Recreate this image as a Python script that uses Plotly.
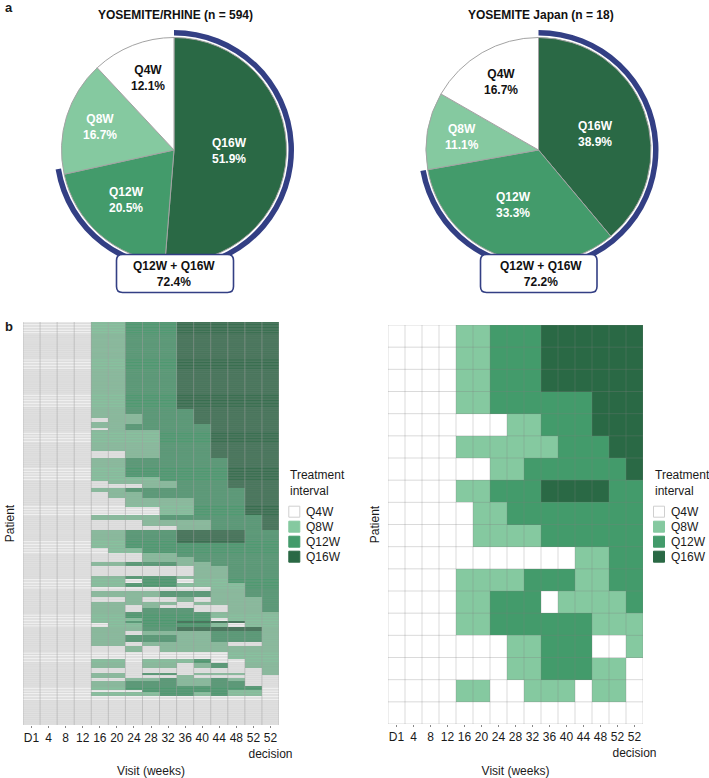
import plotly.graph_objects as go

W, H = 709, 778

INTERVALS = ["Q16W", "Q12W", "Q8W", "Q4W"]
pie_left_values = [51.9, 20.5, 16.7, 12.1]
pie_right_values = [38.9, 33.3, 11.1, 16.7]
title_left = "YOSEMITE/RHINE (n = 594)"
title_right = "YOSEMITE Japan (n = 18)"
combined_label = "Q12W + Q16W"
combined_left = 72.4
combined_right = 72.2

visit_labels = ["D1", "4", "8", "12", "16", "20", "24", "28", "32", "36", "40", "44", "48", "52", "52<br>decision"]
legend_labels = ["Q4W", "Q8W", "Q12W", "Q16W"]

COLORS = {"Q4W": "#ffffff", "Q8W": "#85c9a0", "Q12W": "#439b6b", "Q16W": "#2a6945"}
NAVY = "#333f84"
TEXT = "#1a1a1a"
FONT = "Liberation Sans, Arial, sans-serif"

# interval code per visit from week 16 on (D1-12 are always Q4W): 0 Q4W, 1 Q8W, 2 Q12W, 3 Q16W
japan_rows = [
    "11222333333", "11222333333", "11222333333", "11222222333", "00011222333",
    "11111122233", "00112222223", "11222333322", "01122222222", "01111222222",
    "00000001122", "11112221122", "11222011112", "11222222111", "00011222001",
    "00011222110", "11001110110", "00000000000",
]

pooled_patterns = [
    "11222333333", "11222233333", "11122233333", "01122233333", "11122233333",
    "11222223333", "01222223333", "11112223333", "00112223333", "11222222333",
    "11112222333", "01111222333", "00011222333", "11222222233", "01122222233",
    "00111122233", "00001122233", "11112222223", "00011112223", "00000112223",
    "11222333322", "11222222222", "01122222222", "00011222222", "00011122222",
    "11222112222", "00000011222", "11222111222", "11022011222", "11222111122",
    "00000001122", "11112221122", "00100101112", "11111011112", "11010000112",
    "11022200112", "11222221111", "11122220111", "11222333311", "01122221011",
    "11122333331", "11011112221", "11222112221", "11011111001", "00101111111",
    "00000000111", "11011120011", "11011012011", "00000000001", "11022011101",
    "11000100000", "00112112100", "11222112200", "11222222220", "00022222110",
    "11112212110", "00000000000",
]
pooled_counts = [
    128, 7, 6, 7, 2, 6, 3, 31, 10, 28, 6, 5, 6, 6, 9, 13, 12, 7, 9, 6,
    19, 7, 7, 7, 7, 6, 15, 4, 5, 7, 6, 9, 7, 4, 5, 6, 9, 4, 3, 6,
    6, 5, 10, 7, 9, 10, 6, 7, 7, 3, 5, 4, 7, 7, 2, 6, 43,
]


def expand(patterns, counts):
    rows = []
    for pattern, count in zip(patterns, counts):
        rows.extend([[0, 0, 0, 0] + [int(c) for c in pattern]] * count)
    return rows


z_left = expand(pooled_patterns, pooled_counts)
z_right = expand(japan_rows, [1] * len(japan_rows))


def px(x):
    return x / W


def py(y):
    return 1 - y / H


colorscale = []
for i, name in enumerate(legend_labels):
    colorscale += [[i / 4, COLORS[name]], [(i + 1) / 4, COLORS[name]]]

fig = go.Figure()


def add_pie(values, cx, cy, radius, total):
    slice_colors = [COLORS[n] for n in INTERVALS]
    fig.add_trace(go.Pie(
        values=values, labels=INTERVALS, sort=False, direction="clockwise", rotation=0,
        marker=dict(colors=slice_colors, line=dict(color="#a3a3a3", width=1)),
        textinfo="none", hoverinfo="label+value", showlegend=False,
        domain=dict(x=[px(cx - radius), px(cx + radius)], y=[py(cy + radius), py(cy - radius)]),
    ))
    outer = radius + 7.5
    fig.add_trace(go.Pie(
        values=[total, 100 - total], sort=False, direction="clockwise", rotation=0,
        hole=(radius + 2) / outer,
        marker=dict(colors=[NAVY, "rgba(0,0,0,0)"], line=dict(width=0)),
        textinfo="none", hoverinfo="skip", showlegend=False,
        domain=dict(x=[px(cx - outer), px(cx + outer)], y=[py(cy + outer), py(cy - outer)]),
    ))


add_pie(pie_left_values, 174, 150, 112.5, combined_left)
add_pie(pie_right_values, 538.5, 150, 112.5, combined_right)


def add_panel(z, suffix, x0, x1, y0, y1, row_width, row_color, col_width, col_color, moire=False):
    n = len(z)
    nc = len(z[0])
    xa, ya = "x" + suffix, "y" + suffix
    fig.add_trace(go.Heatmap(
        z=z, x=list(range(nc)), y=list(range(n)), zmin=0, zmax=4,
        colorscale=colorscale, showscale=False, hoverinfo="skip", xaxis=xa, yaxis=ya,
    ))
    hx, hy = [], []
    for r in range(n + 1):
        # the densely packed rule lines beat against the pixel grid and leave paler streaks
        if moire and r % 54 < 18 and r % 4 == 0:
            continue
        hx += [-0.5, nc - 0.5, None]
        hy += [r - 0.5, r - 0.5, None]
    fig.add_trace(go.Scatter(x=hx, y=hy, mode="lines", line=dict(color=row_color, width=row_width),
                             hoverinfo="skip", showlegend=False, xaxis=xa, yaxis=ya))
    vx, vy = [], []
    for c in range(nc + 1):
        vx += [c - 0.5, c - 0.5, None]
        vy += [-0.5, n - 0.5, None]
    fig.add_trace(go.Scatter(x=vx, y=vy, mode="lines", line=dict(color=col_color, width=col_width),
                             hoverinfo="skip", showlegend=False, xaxis=xa, yaxis=ya))
    axis_x = dict(
        domain=[px(x0), px(x1)], range=[-0.5, nc - 0.5], anchor=ya,
        tickmode="array", tickvals=list(range(nc)), ticktext=visit_labels,
        ticks="outside", ticklen=2, tickwidth=1, tickcolor="#888888", tickangle=0,
        showgrid=False, zeroline=False, showline=False, automargin=False,
        tickfont=dict(family=FONT, size=12, color=TEXT),
        title=dict(text="Visit (weeks)", font=dict(family=FONT, size=12, color=TEXT), standoff=8),
    )
    axis_y = dict(
        domain=[py(y1), py(y0)], range=[n - 0.5, -0.5], anchor=xa,
        showticklabels=False, ticks="", showgrid=False, zeroline=False, showline=False, automargin=False,
        title=dict(text="Patient", font=dict(family=FONT, size=12, color=TEXT), standoff=4),
    )
    return axis_x, axis_y


xa1, ya1 = add_panel(z_left, "", 23, 279, 322, 725, 0.25, "rgb(152,152,152)", 0.5, "rgb(160,160,160)", moire=True)
xa2, ya2 = add_panel(z_right, "2", 388, 643, 325, 724, 0.8, "rgba(125,125,125,0.36)", 0.8, "rgba(125,125,125,0.36)")

annotations = []


def note(text, x, y, color=TEXT, bold=False, size=12, xanchor="center"):
    t = f"<b>{text}</b>" if bold else text
    annotations.append(dict(text=t, x=px(x), y=py(y), xref="paper", yref="paper", showarrow=False,
                            xanchor=xanchor, yanchor="middle", align="left" if xanchor == "left" else "center",
                            font=dict(family=FONT, size=size, color=color)))


note("a", 3, 7, bold=True, size=13, xanchor="left")
note("b", 3, 326, bold=True, size=13, xanchor="left")
note(title_left, 175, 15, bold=True, color="#111111")
note(title_right, 540.5, 15, bold=True, color="#111111")

left_pos = [(229.3, 150.7), (126, 200), (100.3, 126.5), (147.7, 78.3)]
right_pos = [(595.7, 134), (513.3, 205), (462, 137.3), (501.3, 81.7)]
for values, pos in ((pie_left_values, left_pos), (pie_right_values, right_pos)):
    for name, v, (x, y) in zip(INTERVALS, values, pos):
        note(f"{name}<br>{v}%", x, y, color="#111111" if name == "Q4W" else "#ffffff", bold=True)

note(f"{combined_label}<br>{combined_left}%", 173.7, 274.3, bold=True, color="#111111")
note(f"{combined_label}<br>{combined_right}%", 540.7, 274.3, bold=True, color="#111111")

shapes = []


def rounded_box(x0, x1, y0, y1, r=6):
    X0, X1 = px(x0), px(x1)
    Y0, Y1 = py(y0), py(y1)
    rx, ry = r / W, r / H
    path = (f"M {X0 + rx} {Y0} L {X1 - rx} {Y0} Q {X1} {Y0} {X1} {Y0 - ry} "
            f"L {X1} {Y1 + ry} Q {X1} {Y1} {X1 - rx} {Y1} "
            f"L {X0 + rx} {Y1} Q {X0} {Y1} {X0} {Y1 + ry} "
            f"L {X0} {Y0 - ry} Q {X0} {Y0} {X0 + rx} {Y0} Z")
    shapes.append(dict(type="path", path=path, xref="paper", yref="paper", fillcolor="#ffffff",
                       line=dict(color=NAVY, width=1.6), layer="above"))


rounded_box(116.5, 233.5, 254.5, 292.5)
rounded_box(480.5, 597, 254.5, 292.5)

for lx in (288.3, 653):
    note("Treatment<br>interval", lx, 483, xanchor="left")
    for i, name in enumerate(legend_labels):
        cy = 511.7 + i * 15
        shapes.append(dict(type="rect", xref="paper", yref="paper",
                           x0=px(lx + 0.5), x1=px(lx + 11.5), y0=py(cy + 5.5), y1=py(cy - 5.5),
                           fillcolor=COLORS[name],
                           line=dict(color="#cfcfcf" if name == "Q4W" else COLORS[name], width=1)))
        note(name, lx + 15.5, cy, xanchor="left")

fig.update_layout(
    width=W, height=H, autosize=False, margin=dict(l=0, r=0, t=0, b=0),
    paper_bgcolor="#ffffff", plot_bgcolor="#ffffff", showlegend=False,
    font=dict(family=FONT, size=12, color=TEXT),
    xaxis=xa1, yaxis=ya1, xaxis2=xa2, yaxis2=ya2,
    annotations=annotations, shapes=shapes,
)

fig.write_html("out.html", config={"displayModeBar": False}, post_script="document.body.style.margin='0';")
